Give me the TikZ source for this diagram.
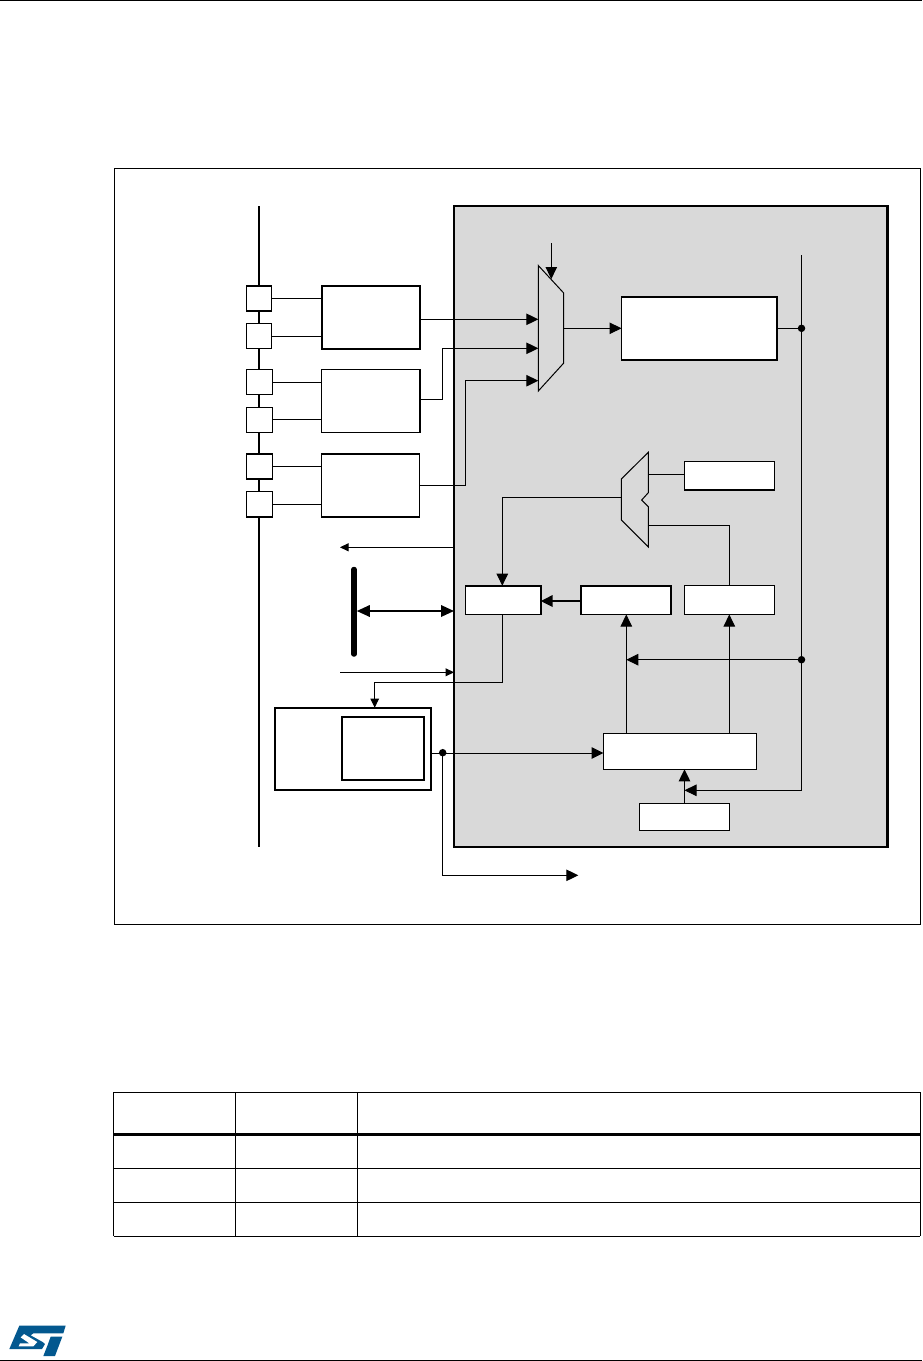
\documentclass[tikz,border=0pt]{standalone}
\usetikzlibrary{arrows.meta}
\definecolor{panelgrey}{HTML}{D9D9D9}
\definecolor{stblue}{HTML}{03588F}
\tikzset{
  pbox/.style={draw=black,fill=white,line width=1.5pt,inner sep=0pt,outer sep=0pt},
  thinbox/.style={line width=1.2pt},
  panel/.style={draw=black,fill=panelgrey,line width=2.2pt},
  wire/.style={draw=black,line width=1pt},
  wirethick/.style={draw=black,line width=1.8pt},
  arr/.style={wire,-{Triangle[length=12pt,width=11.5pt]}},
  arrs/.style={wire,-{Triangle[length=8.5pt,width=8pt]}},
  dotnode/.style={circle,fill=black,inner sep=0pt,outer sep=0pt,minimum size=7.5pt},
  muxshape/.style={draw=black,fill=panelgrey,line width=1pt,line join=miter},
  rule/.style={draw=black,line width=1pt},
  tabline/.style={draw=black,line width=1pt},
}
\newcommand\rbox[6][]{%
  \pgfmathsetmacro\rw{#5-#3}\pgfmathsetmacro\rh{#6-#4}%
  \pgfmathsetmacro\rcx{(#5+#3)/2}\pgfmathsetmacro\rcy{(#6+#4)/2}%
  \node[pbox,#1,minimum width=\rw pt,minimum height=\rh pt] (#2) at (\rcx,\rcy) {};}
\begin{document}
\begin{tikzpicture}[x=1pt,y=-1pt]
\useasboundingbox (0,0) rectangle (922,1361);
\fill[white] (0,0) rectangle (922,1361);
% page rules
\coordinate (tl) at (0,0.6); \coordinate (tr) at (922,0.6);
\coordinate (bl) at (0,1360.3); \coordinate (br) at (922,1360.3);
\draw[rule] (tl) -- (tr);
\draw[rule] (bl) -- (br);
% frame
\rbox[thinbox,line width=1pt]{frame}{114.5}{168.5}{920.5}{924.3}
% bus
\coordinate (bustop) at (259,206); \coordinate (busbot) at (259,847);
\draw[black,line width=2pt] (bustop) -- (busbot);
% pin squares
\rbox{s1}{246.5}{286}{271.7}{311}
\rbox{s2}{246.5}{323.5}{271.7}{348.7}
\rbox[thinbox]{s3}{246.5}{369.5}{272.3}{394.5}
\rbox[thinbox]{s4}{246.5}{407.5}{272.3}{432.3}
\rbox{s5}{246.5}{454}{272.3}{479}
\rbox{s6}{246.5}{491.5}{272.3}{516.8}
% peripheral boxes
\rbox[line width=1.8pt]{b1}{321.7}{286}{420}{348.7}
\rbox[line width=1.5pt]{b2}{321.7}{369.5}{420}{432.3}
\rbox[line width=1.5pt]{b3}{321.7}{454}{419.3}{517}
\foreach \a/\b/\y in {s1/b1/298.3,s2/b1/336.3,s3/b2/382.3,s4/b2/419.3,s5/b3/466.3,s6/b3/504.3}
  \draw[wire] (\a.east |- 0,\y) -- (\b.west |- 0,\y);
% grey panel
\rbox[panel]{pan}{454}{206}{887.5}{847}
% inner boxes
\rbox[line width=1.7pt]{big}{621.5}{296.7}{776.7}{360}
\rbox{tsrc}{684.3}{461.5}{774.5}{490}
\rbox[line width=1.7pt]{lft}{465.5}{585.7}{540.7}{614.5}
\rbox[line width=1.7pt]{mid}{580.7}{585.7}{671}{614.5}
\rbox{rgt}{684.3}{585.7}{774.5}{614.5}
\rbox{wide}{603.5}{733.3}{756.5}{769.3}
\rbox{low}{639.7}{803.5}{729.5}{830.3}
% left device
\rbox[line width=1.7pt]{dev}{275}{707.7}{431.3}{790}
\rbox[line width=1.7pt]{devin}{342.3}{716.7}{424.3}{780}
% mux 1
\path[muxshape] (538.3,265.5) coordinate (m1a) -- (563.5,292.8) -- (563.5,363.3) -- (538.3,391) coordinate (m1d) -- cycle;
\coordinate (m1i1) at (538.3,319.3);
\coordinate (m1i2) at (538.3,348.3);
\coordinate (m1i3) at (538.3,380.7);
\coordinate (m1o) at (563.5,328.3);
\coordinate (m1s) at (551.3,243);
\coordinate (m1st) at (551.3,279);
\draw[arr] (b1.east |- m1i1) -- (m1i1);
\coordinate (b2o) at (420,399.3);
\coordinate (k2a) at (442.3,399.3);
\coordinate (k2b) at (442.3,348.3);
\draw[arr] (b2o) -- (k2a) -- (k2b) -- (m1i2);
\coordinate (b3o) at (419.3,485.3);
\coordinate (k3a) at (465.7,485.3);
\coordinate (k3b) at (465.7,380.7);
\draw[arr] (b3o) -- (k3a) -- (k3b) -- (m1i3);
\draw[arr] (m1s) -- (m1st);
\draw[arr] (m1o) -- (big.west |- m1o);
% vertical rail
\coordinate (rtop) at (801.5,255);
\coordinate (rbot) at (801.5,790.3);
\draw[wire] (rtop) -- (rbot);
\node[dotnode] (d1) at (801.5,328.3) {};
\node[dotnode] (d2) at (801.5,659.7) {};
\draw[wire] (big.east |- d1) -- (d1);
% mux 2
\path[muxshape] (621.3,479) coordinate (m2a) -- (648.3,452.3) -- (648.3,492.7) -- (641.7,500) -- (648.3,506.7) -- (648.3,547) -- (621.3,520) -- cycle;
\coordinate (m2l) at (621.3,497.3);
\coordinate (m2t) at (648.3,474.3);
\coordinate (m2b) at (648.3,525.3);
\draw[wire] (m2t) -- (tsrc.west |- m2t);
\coordinate (k4) at (rgt.north |- m2b);
\draw[wire] (m2b) -- (k4) -- (rgt.north);
\coordinate (k5) at (502.3,497.3);
\draw[arr] (m2l) -- (k5) -- (k5 |- lft.north);
% arrows among inner boxes
\draw[wirethick,-{Triangle[length=12pt,width=11.5pt]}] (mid.west |- 0,601) -- (lft.east |- 0,601);
\coordinate (wu1) at (626.3,733.3);
\draw[arr] (wu1) -- (wu1 |- mid.south);
\coordinate (wu2) at (729.3,733.3);
\draw[arr] (wu2) -- (wu2 |- rgt.south);
\coordinate (lo) at (684.5,803.5);
\draw[arr] (lo) -- (lo |- wide.south);
\draw[arr] (d2) -- (wu1 |- d2);
\draw[arr] (rbot) -- (lo |- rbot);
% left edge signals
\coordinate (outl) at (340,547.3);
\draw[arrs] (pan.west |- outl) -- (outl);
\coordinate (inl) at (340,672.3);
\draw[arrs] (inl) -- (pan.west |- inl);
% thick bar and double arrow
\coordinate (bart) at (354,569.5); \coordinate (barb) at (354,654);
\draw[black,line width=5.5pt,line cap=round] (bart) -- (barb);
\coordinate (dbl) at (356.8,611);
\draw[wirethick,{Triangle[length=13pt,width=11.5pt]}-{Triangle[length=13pt,width=11.5pt]}] (dbl) -- (pan.west |- dbl);
% lft to dev
\coordinate (k6) at (502.3,682.3);
\coordinate (k7) at (374.7,682.3);
\draw[wire] (k5 |- lft.south) -- (k6) -- (k7);
\draw[arr,-{Triangle[length=9pt,width=8.5pt]}] (k7) -- (k7 |- dev.north);
% dev out
\node[dotnode] (d3) at (442.7,752.7) {};
\draw[arr] (dev.east |- 0,753) -- (wide.west |- 0,753);
\coordinate (k8) at (442.7,875.3);
\coordinate (k9) at (578.3,875.3);
\draw[arr] (d3) -- (k8) -- (k9);
% table
\foreach \y in {1092.3,1168.5,1202.3,1236.3}
  \draw[tabline] (113.5,\y) -- (920.3,\y);
\draw[black,line width=3pt] (113.5,1134) -- (920.3,1134);
\foreach \x in {113.5,235.3,357.3,920.3}
  \draw[tabline] (\x,1092.3) -- (\x,1236.3);
% logo
\begin{scope}[shift={(0,1280)},x=0.3333pt,y=-0.3333pt]
\fill[stblue] (58,137) -- (197,137) -- (190,160) -- (100,160) -- (92,166) -- (128,186) -- (135,192) -- (126,207) -- (28,207) -- cycle;
\fill[white] (62,172) -- (72,162) -- (112,186) -- (100,199) -- (56,199) -- (60,190) -- (88,190) -- cycle;
\fill[stblue] (152,170) -- (187,170) -- (165,228) -- (130,228) -- (143,195) -- cycle;
\end{scope}
\end{tikzpicture}
\end{document}
